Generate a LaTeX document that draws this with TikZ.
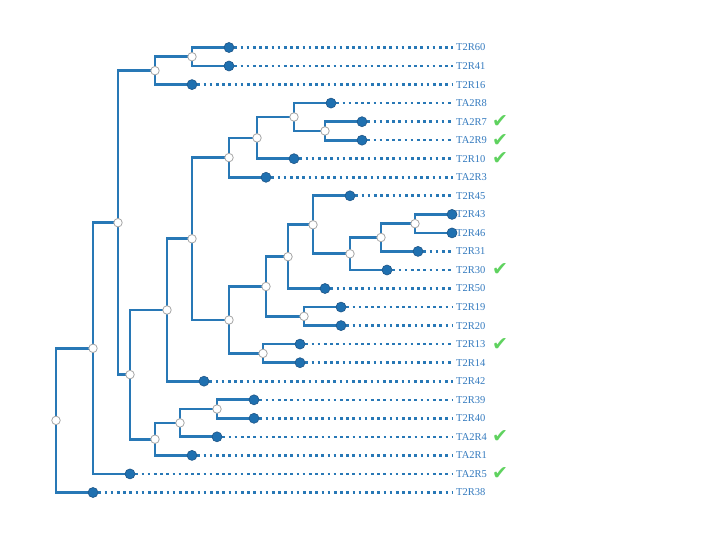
\documentclass[tikz,border=0pt]{standalone}
\usepackage{fontspec}
\setmainfont{Liberation Serif}
\newfontfamily\symfont{DejaVu Sans}
\usetikzlibrary{backgrounds}
\definecolor{branch}{RGB}{40,120,182}
\definecolor{leaffill}{RGB}{31,112,176}
\definecolor{leafedge}{RGB}{30,85,135}
\definecolor{labcol}{RGB}{52,122,190}
\definecolor{chk}{RGB}{95,210,95}
\tikzset{
  x=1pt, y=-1pt,
  inner/.style={circle, draw=gray!70, fill=white, line width=0.8pt, minimum size=8.5pt, inner sep=0pt},
  leafdot/.style={circle, draw=leafedge, fill=leaffill, line width=0.6pt, minimum size=10pt, inner sep=0pt},
  edge/.style={draw=branch, line width=2.7pt, line join=miter},
  dotline/.style={draw=branch, line width=2.6pt, dash pattern=on 2.6pt off 3.6pt},
  lab/.style={anchor=west, inner sep=0pt, text=labcol, font=\fontsize{10.5}{12}\selectfont},
  tick/.style={text=chk, inner sep=0pt, font=\symfont\fontsize{19}{19}\selectfont}
}
\newcommand\mkleaf[5]{%
  \node[leafdot] (#1) at (#2,#3) {};
  \node[lab] (#1t) at (456,#3) {#4};
  \begin{pgfonlayer}{background}\draw[dotline] (#1.east) -- ([xshift=-3pt]#1t.west);\end{pgfonlayer}
  \ifx&#5&\else\node[tick] at (500,#3) {✔};\fi
}
\begin{document}
\begin{tikzpicture}
\useasboundingbox (0,0) rectangle (720,540);
\mkleaf{l0}{229}{47.5}{T2R60}{}
\mkleaf{l1}{229}{66}{T2R41}{}
\mkleaf{l2}{192}{84.6}{T2R16}{}
\mkleaf{l3}{331}{103.1}{TA2R8}{}
\mkleaf{l4}{362}{121.7}{TA2R7}{y}
\mkleaf{l5}{362}{140.2}{TA2R9}{y}
\mkleaf{l6}{294}{158.7}{T2R10}{y}
\mkleaf{l7}{266}{177.3}{TA2R3}{}
\mkleaf{l8}{350}{195.8}{T2R45}{}
\mkleaf{l9}{452}{214.4}{T2R43}{}
\mkleaf{l10}{452}{232.9}{T2R46}{}
\mkleaf{l11}{418}{251.4}{T2R31}{}
\mkleaf{l12}{387}{270.0}{T2R30}{y}
\mkleaf{l13}{325}{288.5}{T2R50}{}
\mkleaf{l14}{341}{307.1}{T2R19}{}
\mkleaf{l15}{341}{325.6}{T2R20}{}
\mkleaf{l16}{300}{344.1}{T2R13}{y}
\mkleaf{l17}{300}{362.7}{T2R14}{}
\mkleaf{l18}{204}{381.2}{T2R42}{}
\mkleaf{l19}{254}{399.8}{T2R39}{}
\mkleaf{l20}{254}{418.3}{T2R40}{}
\mkleaf{l21}{217}{436.8}{TA2R4}{y}
\mkleaf{l22}{192}{455.4}{TA2R1}{}
\mkleaf{l23}{130}{473.9}{TA2R5}{y}
\mkleaf{l24}{93}{492.5}{T2R38}{}
% internal nodes
\node[inner] (a1) at (192,56.75) {};
\node[inner] (a2) at (155,70.7) {};
\node[inner] (b1) at (325,130.95) {};
\node[inner] (b2) at (294,117.0) {};
\node[inner] (b3) at (257,137.9) {};
\node[inner] (b4) at (229,157.6) {};
\node[inner] (c1) at (415,223.65) {};
\node[inner] (c2) at (381,237.5) {};
\node[inner] (c3) at (350,253.8) {};
\node[inner] (c4) at (313,224.8) {};
\node[inner] (c5) at (288,256.7) {};
\node[inner] (c6) at (304,316.35) {};
\node[inner] (c7) at (266,286.5) {};
\node[inner] (c8) at (263,353.4) {};
\node[inner] (c9) at (229,320.0) {};
\node[inner] (d1) at (192,238.8) {};
\node[inner] (d2) at (167,310.0) {};
\node[inner] (e1) at (217,409.05) {};
\node[inner] (e2) at (180,422.9) {};
\node[inner] (e3) at (155,439.2) {};
\node[inner] (f1) at (130,374.6) {};
\node[inner] (g1) at (118,222.7) {};
\node[inner] (g2) at (93,348.3) {};
\node[inner] (r) at (56,420.4) {};
\begin{pgfonlayer}{background}
\foreach \p/\c in {a1/l0,a1/l1,a2/a1,a2/l2,b1/l4,b1/l5,b2/l3,b2/b1,b3/b2,b3/l6,b4/b3,b4/l7,
  c1/l9,c1/l10,c2/c1,c2/l11,c3/c2,c3/l12,c4/l8,c4/c3,c5/c4,c5/l13,c6/l14,c6/l15,c7/c5,c7/c6,
  c8/l16,c8/l17,c9/c7,c9/c8,d1/b4,d1/c9,d2/d1,d2/l18,e1/l19,e1/l20,e2/e1,e2/l21,e3/e2,e3/l22,
  f1/d2,f1/e3,g1/a2,g1/f1,g2/g1,g2/l23,r/g2,r/l24}
  \draw[edge] (\p.center) |- (\c.center);
\end{pgfonlayer}
\end{tikzpicture}
\end{document}
